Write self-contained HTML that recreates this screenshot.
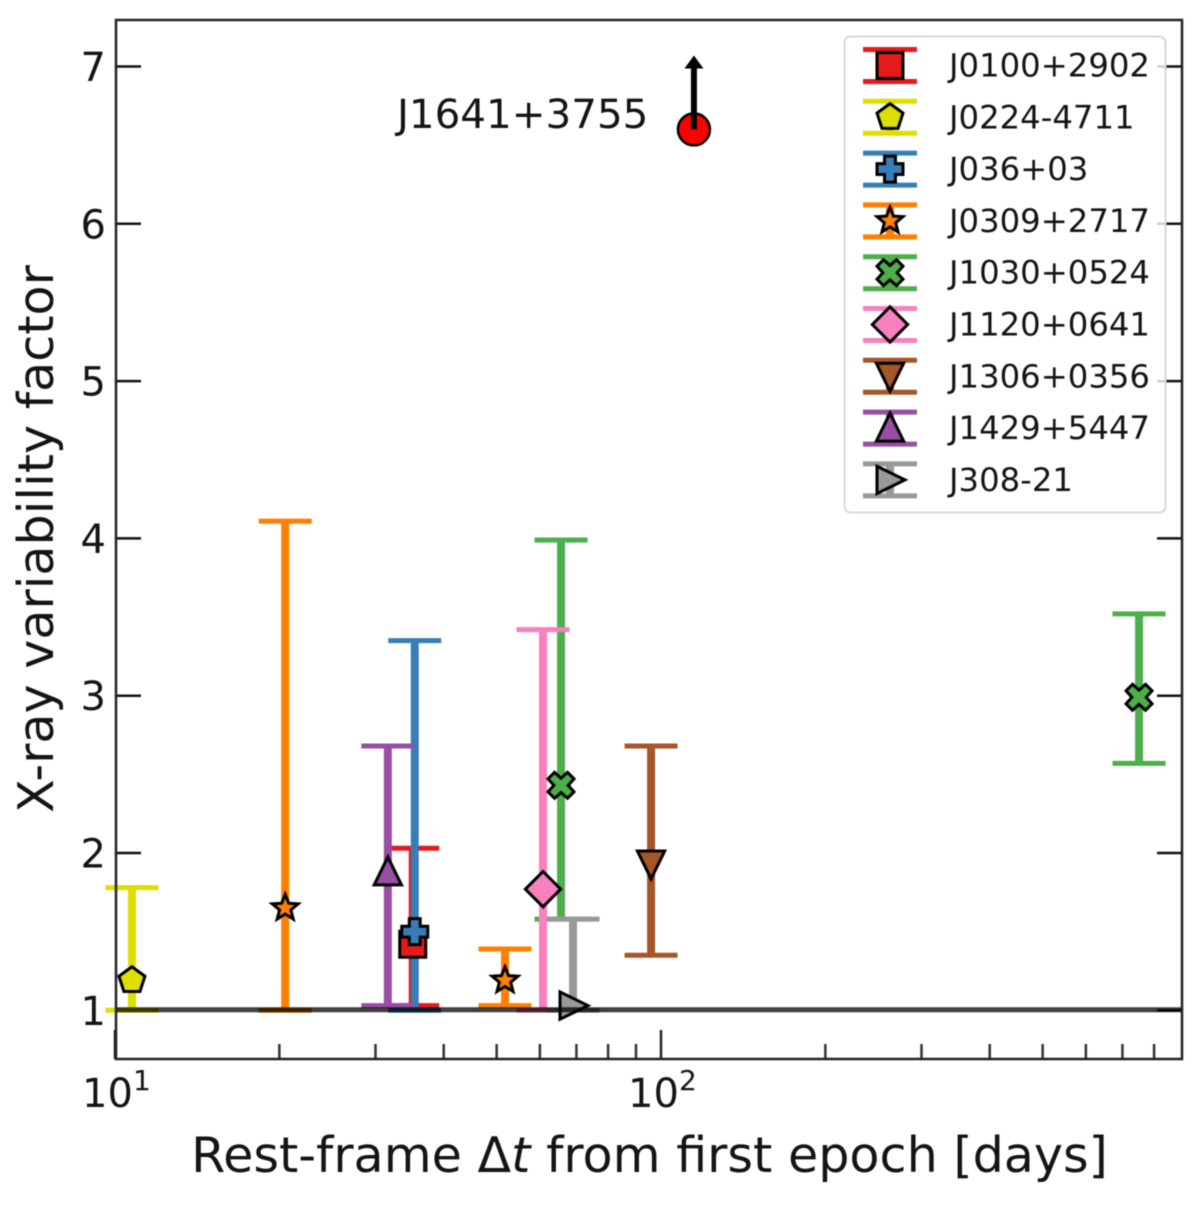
<!DOCTYPE html>
<html>
<head>
<meta charset="utf-8">
<title>X-ray variability factor</title>
<style>
html,body{margin:0;padding:0;background:#fff;}
svg{display:block;filter:blur(0.6px);}
text{font-family:"DejaVu Sans","Liberation Sans",sans-serif;fill:#141414;}
</style>
</head>
<body>
<svg id="chart" xmlns="http://www.w3.org/2000/svg" width="1200" height="1208" viewBox="0 0 1200 1208">
  <rect x="116" y="20" width="1066" height="1039" fill="#fff"/>
  <g id="ticks"></g>
  <g id="marks"></g>
  <g id="baseline-layer"></g>
  <rect x="116" y="20" width="1066" height="1039" fill="none" stroke="#222" stroke-width="2.5"/>
  <g id="legend"></g>
  <g id="tick-labels"></g>
  <text x="649.5" y="1172" font-size="49.2" text-anchor="middle">Rest-frame Δ<tspan font-style="italic">t</tspan> from first epoch [days]</text>
  <text x="53" y="539" font-size="49.2" text-anchor="middle" transform="rotate(-90 53 539)">X-ray variability factor</text>
  <text x="397" y="128" font-size="40.4">J1641+3755</text>
</svg>
<script>
// ---- chart data ----
const sourceNames = ['J0100+2902','J0224-4711','J036+03','J0309+2717','J1030+0524','J1120+0641','J1306+0356','J1429+5447','J308-21'];
const pointSource = [0,1,2,3,3,4,4,5,6,7,8];
const pointDays   = [35.1,10.74,35.4,20.5,51.8,65.6,750.8,60.8,95.9,31.6,69.0];
const pointFactor = [1.42,1.19,1.50,1.65,1.19,2.43,2.99,1.77,1.93,1.88,1.03];
const pointUpper  = [2.03,1.78,3.35,4.11,1.39,3.99,3.52,3.42,2.68,2.68,1.58];
const pointLower  = [1.03,1.00,1.00,1.00,1.03,1.58,2.57,1.00,1.35,1.03,1.00];
const outlierName = ['J1641+3755'];
const outlierDays = [114.9];
const outlierFactor = [6.60];
const outlierArrowTop = [7.07];
const baselineValue = [1];
const yTickValues = [1,2,3,4,5,6,7];
const xMajorTickValues = [10,100];
const xMajorTickExponents = ['1','2'];
const xMinorTickValues = [20,30,40,50,60,70,80,90,200,300,400,500,600,700,800];

// ---- styles ----
const seriesColors = ['#e41a1c','#dede00','#377eb8','#ff7f00','#4daf4a','#f781bf','#a65628','#984ea3','#999999'];
const seriesMarkers = ['square','pentagon','plus','star','xfill','diamond','down','up','right'];

// ---- axis functions ----
const xScale = v => 115 + 546 * Math.log10(v / 10);
const yScale = v => 1010.3 - (v - 1) * 157.3;
const NS = 'http://www.w3.org/2000/svg';
function make(tag, attrs, parent) {
  const el = document.createElementNS(NS, tag);
  for (const k in attrs) el.setAttribute(k, attrs[k]);
  parent.appendChild(el);
  return el;
}
function poly(pts, cx, cy, r) {
  return pts.map(p => (cx + p[0] * r).toFixed(2) + ',' + (cy + p[1] * r).toFixed(2)).join(' ');
}
function starPoints() {
  const out = [];
  for (let i = 0; i < 10; i++) {
    const a = -Math.PI / 2 + i * Math.PI / 5;
    const rr = i % 2 ? 0.46 : 1.05;
    out.push([rr * Math.cos(a), rr * Math.sin(a)]);
  }
  return out;
}
function pentagonPoints() {
  const out = [];
  for (let i = 0; i < 5; i++) {
    const a = -Math.PI / 2 + i * 2 * Math.PI / 5;
    out.push([1.05 * Math.cos(a), 1.05 * Math.sin(a)]);
  }
  return out;
}
const shapes = {
  square: [[-1,-1],[1,-1],[1,1],[-1,1]],
  pentagon: pentagonPoints(),
  plus: [[-0.42,-1],[0.42,-1],[0.42,-0.42],[1,-0.42],[1,0.42],[0.42,0.42],[0.42,1],[-0.42,1],[-0.42,0.42],[-1,0.42],[-1,-0.42],[-0.42,-0.42]],
  star: starPoints(),
  xfill: [[-0.5,-1],[0,-0.55],[0.5,-1],[1,-0.5],[0.55,0],[1,0.5],[0.5,1],[0,0.55],[-0.5,1],[-1,0.5],[-0.55,0],[-1,-0.5]],
  diamond: [[0,-1.36],[1.36,0],[0,1.36],[-1.36,0]],
  down: [[-1.05,-1],[1.05,-1],[0,1.15]],
  up: [[0,-1.15],[1.05,1],[-1.05,1]],
  right: [[-1,-1.05],[1.15,0],[-1,1.05]]
};
function drawMarker(kind, cx, cy, color, parent) {
  return make('polygon', {points: poly(shapes[kind], cx, cy, 13), fill: color, stroke: '#000', 'stroke-width': 3, 'stroke-linejoin': 'miter'}, parent);
}

// ---- ticks ----
const ticksG = document.getElementById('ticks');
const labelsG = document.getElementById('tick-labels');
yTickValues.forEach(v => {
  const y = yScale(v);
  const l = make('line', {x1: 116, x2: 141, y1: y, y2: y, stroke: '#111', 'stroke-width': 2.5}, ticksG);
  
  
  const r = make('line', {x1: 1157, x2: 1182, y1: y, y2: y, stroke: '#111', 'stroke-width': 2.5}, ticksG);
  
  
  const t = make('text', {x: 106, y: y + 14.5, 'font-size': 40, 'text-anchor': 'end'}, labelsG);
  
  
  t.textContent = String(v);
});
xMajorTickValues.forEach((v, i) => {
  const x = xScale(v);
  const l = make('line', {x1: x, x2: x, y1: 1059, y2: 1030, stroke: '#222', 'stroke-width': 2.5}, ticksG);
  
  
  const t = make('text', {x: x - 33, y: 1107, 'font-size': 40}, labelsG);
  
  
  t.textContent = '10';
  const s = make('text', {x: x + 18, y: 1090, 'font-size': 28}, labelsG);
  
  
  s.textContent = xMajorTickExponents[i];
});
xMinorTickValues.forEach(v => {
  const x = xScale(v);
  const l = make('line', {x1: x, x2: x, y1: 1059, y2: 1044, stroke: '#333', 'stroke-width': 2.5}, ticksG);
  
  
});

// ---- data marks ----
const marksG = document.getElementById('marks');
const capHalf = 26.5;
const order = sourceNames.map((_, i) => i);
order.forEach(si => {
  pointSource.forEach((src, i) => {
    if (src !== si) return;
    const color = seriesColors[si];
    const x = xScale(pointDays[i]);
    const g = make('g', {}, marksG);
    
    
    const bar = make('line', {x1: x, x2: x, y1: yScale(pointUpper[i]), y2: yScale(pointLower[i]), stroke: color, 'stroke-width': 8}, g);
    
    
    const up = make('line', {x1: x - capHalf, x2: x + capHalf, y1: yScale(pointUpper[i]), y2: yScale(pointUpper[i]), stroke: color, 'stroke-width': 5}, g);
    
    
    const low = make('line', {x1: x - capHalf, x2: x + capHalf, y1: yScale(pointLower[i]), y2: yScale(pointLower[i]), stroke: color, 'stroke-width': 5}, g);
    
    
  });
});
order.forEach(si => {
  pointSource.forEach((src, i) => {
    if (src !== si) return;
    const m = drawMarker(seriesMarkers[si], xScale(pointDays[i]), yScale(pointFactor[i]), seriesColors[si], marksG);
    
    
  });
});

// ---- outlier with lower-limit arrow ----
const ox = xScale(outlierDays[0]);
const oy = yScale(outlierFactor[0]);
const oTop = yScale(outlierArrowTop[0]);
const circ = make('circle', {cx: ox, cy: oy, r: 16, fill: '#ff0000', stroke: '#000', 'stroke-width': 2.5}, marksG);


const shaft = make('line', {x1: ox, x2: ox, y1: oy, y2: oTop + 6, stroke: '#000', 'stroke-width': 6}, marksG);


const head = make('polygon', {points: [ox, oTop, ox + 9.5, oTop + 13, ox - 9.5, oTop + 13].join(' '), fill: '#000'}, marksG);



// ---- baseline at factor = 1 ----
const baseG = document.getElementById('baseline-layer');
const base = make('line', {x1: 116, x2: 1182, y1: yScale(baselineValue[0]) - 0.5, y2: yScale(baselineValue[0]) - 0.5, stroke: '#000', 'stroke-opacity': 0.75, 'stroke-width': 5}, baseG);



// ---- legend ----
const legendG = document.getElementById('legend');
const box = make('rect', {x: 844.5, y: 36.5, width: 321, height: 476, rx: 6, ry: 6, fill: '#fff', 'fill-opacity': 0.8, stroke: '#d9d9d9', 'stroke-width': 2}, legendG);


sourceNames.forEach((name, i) => {
  const cy = 65.5 + i * 51.8;
  const color = seriesColors[i];
  const g = make('g', {}, legendG);
  
  
  const v = make('line', {x1: 890, x2: 890, y1: cy - 16, y2: cy + 16, stroke: color, 'stroke-width': 8}, g);
  
  
  const c1 = make('line', {x1: 863, x2: 917, y1: cy - 16, y2: cy - 16, stroke: color, 'stroke-width': 5}, g);
  
  
  const c2 = make('line', {x1: 863, x2: 917, y1: cy + 16, y2: cy + 16, stroke: color, 'stroke-width': 5}, g);
  
  
  const m = drawMarker(seriesMarkers[i], 890, cy, color, g);
  
  
  const t = make('text', {x: 949, y: cy + 11, 'font-size': 32.3}, g);
  
  
  t.textContent = name;
});
</script>
</body>
</html>
